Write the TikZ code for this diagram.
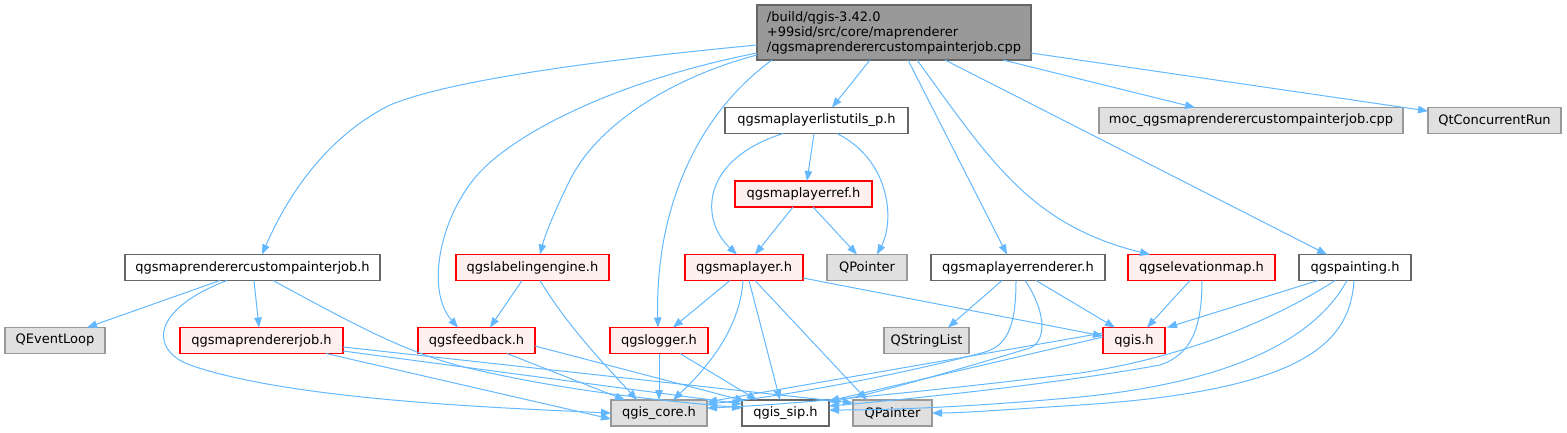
\documentclass[tikz,border=0pt]{standalone}
\usepackage{fontspec}
\setmainfont{DejaVu Sans}
\usetikzlibrary{arrows.meta}
\definecolor{edgec}{HTML}{63B8FF}
\definecolor{gfill}{HTML}{E0E0E0}
\definecolor{gborder}{HTML}{999999}
\definecolor{wborder}{HTML}{666666}
\definecolor{rfill}{HTML}{FFF0F0}
\definecolor{rootfill}{HTML}{999999}
\begin{document}
\begin{tikzpicture}[x=1pt,y=-1pt,
  box/.style={draw, line width=1.1pt, inner sep=0pt, outer sep=0pt, minimum height=26pt, font=\fontsize{13}{15}\selectfont, text=black},
  gbox/.style={box, fill=gfill, draw=gborder},
  wbox/.style={box, fill=white, draw=wborder},
  rbox/.style={box, fill=rfill, draw=red},
  rootbox/.style={box, fill=rootfill, draw=wborder, align=left},
  edge/.style={draw=edgec, line width=1pt, -{Triangle[length=10pt,width=7.5pt]}}
]
\useasboundingbox (0,0) rectangle (1567,432);
% nodes
\node[rootbox, minimum width=274pt, minimum height=55pt] (root) at (894,32.5) {/build/qgis-3.42.0\\+99sid/src/core/maprenderer\\/qgsmaprenderercustompainterjob.cpp};
\node[wbox, minimum width=183pt] (lu) at (816.5,120.5) {qgsmaplayerlistutils\_p.h};
\node[gbox, minimum width=304pt] (moc) at (1251,120.5) {moc\_qgsmaprenderercustompainterjob.cpp};
\node[gbox, minimum width=133pt] (qcr) at (1494.5,120.5) {QtConcurrentRun};
\node[rbox, minimum width=137pt] (mlr) at (803.5,194) {qgsmaplayerref.h};
\node[wbox, minimum width=255pt] (mrcpj) at (252.5,267.5) {qgsmaprenderercustompainterjob.h};
\node[rbox, minimum width=153pt] (lab) at (532.5,267.5) {qgslabelingengine.h};
\node[rbox, minimum width=118pt] (ml) at (744,267.5) {qgsmaplayer.h};
\node[gbox, minimum width=80pt] (qptr) at (867,267.5) {QPointer};
\node[wbox, minimum width=174pt] (mlrr) at (1018,267.5) {qgsmaplayerrenderer.h};
\node[rbox, minimum width=147pt] (elev) at (1201.5,267.5) {qgselevationmap.h};
\node[wbox, minimum width=112pt] (paint) at (1355,267.5) {qgspainting.h};
\node[gbox, minimum width=100pt] (qel) at (55,340.5) {QEventLoop};
\node[rbox, minimum width=163pt] (mrj) at (261.5,340.5) {qgsmaprendererjob.h};
\node[rbox, minimum width=117pt] (fb) at (476.5,340.5) {qgsfeedback.h};
\node[rbox, minimum width=98pt] (log) at (659,340.5) {qgslogger.h};
\node[gbox, minimum width=85pt] (qsl) at (926.5,340.5) {QStringList};
\node[rbox, minimum width=62pt] (qgis) at (1134,340.5) {qgis.h};
\node[gbox, minimum width=96pt] (core) at (659,413) {qgis\_core.h};
\node[wbox, minimum width=87pt] (sip) at (785.5,413) {qgis\_sip.h};
\node[gbox, minimum width=79pt] (qp) at (892.5,413) {QPainter};
% edges from root
\draw[edge] ([shift={(-137,12.5)}]root.center) .. controls (600,60) and (450,80) .. (390,105) .. controls (330,135) and (290,190) .. ([shift={(9.5,-13)}]mrcpj.center);
\draw[edge] ([shift={(-137,20.5)}]root.center) .. controls (620,80) and (520,130) .. (480,172) .. controls (440,215) and (425,290) .. ([shift={(-18.5,-13)}]fb.center);
\draw[edge] ([shift={(-137,22.5)}]root.center) .. controls (680,75) and (600,120) .. (570,180) .. controls (555,210) and (545,235) .. ([shift={(7.5,-13)}]lab.center);
\draw[edge] ([shift={(-122,27.5)}]root.center) .. controls (690,120) and (655,220) .. ([shift={(-1,-13)}]log.center);
\draw[edge] ([shift={(-24,27.5)}]root.center) -- ([shift={(15.5,-13)}]lu.center);
\draw[edge] ([shift={(14,27.5)}]root.center) -- ([shift={(-11,-13)}]mlrr.center);
\draw[edge] ([shift={(23,27.5)}]root.center) .. controls (990,160) and (1030,225) .. ([shift={(-51.5,-13)}]elev.center);
\draw[edge] ([shift={(51,27.5)}]root.center) -- ([shift={(-28,-13)}]paint.center);
\draw[edge] ([shift={(109,27.5)}]root.center) -- ([shift={(-56,-13)}]moc.center);
\draw[edge] ([shift={(137,20.5)}]root.center) -- ([shift={(-66.5,-9.5)}]qcr.center);
% listutils and maplayerref
\draw[edge] ([shift={(-2.5,13)}]lu.center) -- ([shift={(3.5,-13)}]mlr.center);
\draw[edge] ([shift={(-33.5,13)}]lu.center) .. controls (700,160) and (700,220) .. ([shift={(-7,-13)}]ml.center);
\draw[edge] ([shift={(20.5,13)}]lu.center) .. controls (890,160) and (895,220) .. ([shift={(10,-13)}]qptr.center);
\draw[edge] ([shift={(-10.5,13)}]mlr.center) -- ([shift={(11,-13)}]ml.center);
\draw[edge] ([shift={(9.5,13)}]mlr.center) -- ([shift={(-10,-13)}]qptr.center);
% custompainterjob.h
\draw[edge] ([shift={(-32.5,13)}]mrcpj.center) -- ([shift={(32,-13)}]qel.center);
\draw[edge] ([shift={(1.5,13)}]mrcpj.center) -- ([shift={(-2.5,-13)}]mrj.center);
\draw[edge] ([shift={(-25.5,13)}]mrcpj.center) .. controls (150,310) and (150,350) .. (190,365) .. controls (290,400) and (500,408) .. ([shift={(-48,0)}]core.center);
\draw[edge] ([shift={(20.5,13)}]mrcpj.center) .. controls (350,322) and (400,350) .. (460,366) .. controls (570,393) and (680,402) .. ([shift={(-43.5,-5)}]sip.center);
% labelingengine
\draw[edge] ([shift={(-10.5,13)}]lab.center) -- ([shift={(13.5,-13)}]fb.center);
\draw[edge] ([shift={(7.5,13)}]lab.center) .. controls (570,330) and (610,370) .. ([shift={(-22,-13)}]core.center);
% maprendererjob
\draw[edge] ([shift={(64.5,13)}]mrj.center) -- ([shift={(-48,6)}]core.center);
\draw[edge] ([shift={(81.5,10.5)}]mrj.center) -- ([shift={(-43.5,-9)}]sip.center);
\draw[edge] ([shift={(81.5,6.5)}]mrj.center) -- ([shift={(-39.5,-10)}]qp.center);
% feedback
\draw[edge] ([shift={(30.5,13)}]fb.center) -- ([shift={(-34,-13)}]core.center);
\draw[edge] ([shift={(58.5,5.5)}]fb.center) -- ([shift={(-40.5,-12)}]sip.center);
% maplayer
\draw[edge] ([shift={(-14,13)}]ml.center) -- ([shift={(14,-13)}]log.center);
\draw[edge] ([shift={(-1,13)}]ml.center) .. controls (740,330) and (705,370) .. ([shift={(14,-13)}]core.center);
\draw[edge] ([shift={(5,13)}]ml.center) -- ([shift={(-5.5,-13)}]sip.center);
\draw[edge] ([shift={(11,13)}]ml.center) -- ([shift={(-25.5,-13)}]qp.center);
\draw[edge] ([shift={(59,10.5)}]ml.center) -- ([shift={(-31,-4.5)}]qgis.center);
% logger
\draw[edge] ([shift={(0,13)}]log.center) -- ([shift={(0,-13)}]core.center);
\draw[edge] ([shift={(21,13)}]log.center) -- ([shift={(-28.5,-13)}]sip.center);
% maplayerrenderer
\draw[edge] ([shift={(-16,13)}]mlrr.center) -- ([shift={(21.5,-13)}]qsl.center);
\draw[edge] ([shift={(18,13)}]mlrr.center) -- ([shift={(-19,-13)}]qgis.center);
\draw[edge] ([shift={(-2,13)}]mlrr.center) .. controls (1016,320) and (1010,345) .. (985,352) .. controls (900,375) and (780,397) .. ([shift={(48,-9)}]core.center);
\draw[edge] ([shift={(7,13)}]mlrr.center) .. controls (1045,310) and (1048,340) .. (1030,348) .. controls (950,372) and (870,395) .. ([shift={(43.5,-11)}]sip.center);
% elevationmap
\draw[edge] ([shift={(-11.5,13)}]elev.center) -- ([shift={(13,-13)}]qgis.center);
\draw[edge] ([shift={(0.5,13)}]elev.center) .. controls (1202,330) and (1190,355) .. (1160,365) .. controls (1050,385) and (900,400) .. ([shift={(43.5,-7)}]sip.center);
% painting
\draw[edge] ([shift={(-37,13)}]paint.center) -- ([shift={(33,-13)}]qgis.center);
\draw[edge] ([shift={(-20,13)}]paint.center) .. controls (1290,310) and (1200,355) .. (1080,373) .. controls (900,395) and (780,405) .. ([shift={(48,-5)}]core.center);
\draw[edge] ([shift={(-8,13)}]paint.center) .. controls (1320,330) and (1250,380) .. (1080,397) .. controls (960,408) and (880,410) .. ([shift={(43.5,-3)}]sip.center);
\draw[edge] ([shift={(-1,13)}]paint.center) .. controls (1350,340) and (1310,390) .. (1080,405) .. controls (1000,410) and (960,413) .. ([shift={(39.5,0)}]qp.center);
% qgis.h
\draw[edge] ([shift={(-31,-7.5)}]qgis.center) -- ([shift={(48,-11)}]core.center);
\draw[edge] ([shift={(-31,-3.5)}]qgis.center) -- ([shift={(43.5,-12)}]sip.center);
\end{tikzpicture}
\end{document}
